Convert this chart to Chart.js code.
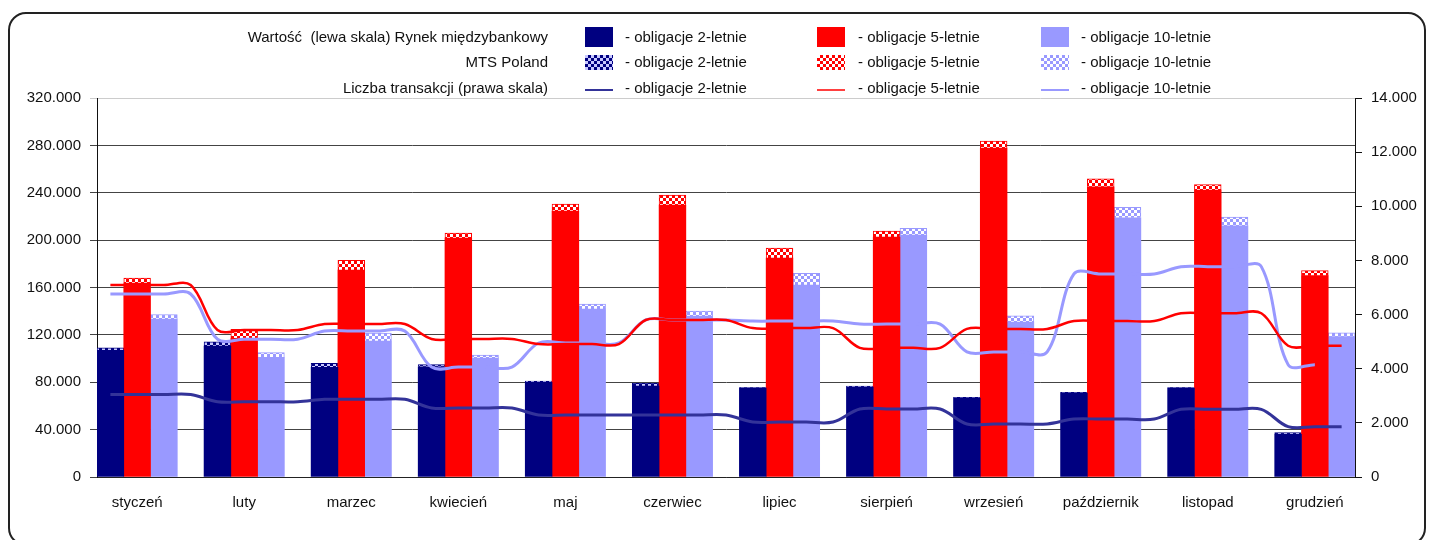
<!DOCTYPE html>
<html>
<head>
<meta charset="utf-8">
<script src="https://cdn.jsdelivr.net/npm/chart.js@4.4.1/dist/chart.umd.min.js"></script>
<style>
  body { margin: 0; width: 1429px; height: 540px; overflow: hidden; background: #fff;
         font-family: "Liberation Sans", Arial, sans-serif; }
  #frame { position: absolute; left: 8px; top: 12px; width: 1414px; height: 530px;
           border: 2px solid #222; border-radius: 18px; }
  #wrap { position: absolute; left: 0; top: 0; width: 1429px; height: 540px; }
  .lg { position: absolute; font-size: 15px; color: #111; white-space: pre; line-height: 18px; }
  .sw { position: absolute; }
</style>
</head>
<body>
<div id="frame"></div>
<div id="wrap"><canvas id="chart"></canvas></div>
<div id="legend"></div>
<script>
// miesiące
const months = ["styczeń", "luty", "marzec", "kwiecień", "maj", "czerwiec",
                "lipiec", "sierpień", "wrzesień", "październik", "listopad", "grudzień"];

// wartość obrotów - rynek międzybankowy (lewa skala)
const interbank2  = [107000, 110600, 92600, 93000, 80000, 76800, 75000, 76000, 66700, 70900, 75000, 36000];
const interbank5  = [163800, 117100, 174800, 201800, 224600, 229600, 184800, 202600, 277800, 245000, 242300, 170000];
const interbank10 = [133400, 101000, 114800, 100500, 141800, 135900, 162000, 204300, 130800, 218900, 212000, 118500];

// wartość obrotów - MTS Poland (dokładane na szczyt słupka)
const mts2  = [2000, 3600, 3400, 2000, 1000, 2600, 500, 800, 500, 500, 500, 1400];
const mts5  = [4200, 7600, 8200, 4200, 5800, 8400, 8500, 5100, 5900, 6800, 4700, 4200];
const mts10 = [3800, 4000, 6800, 2500, 4200, 4100, 10000, 5700, 5200, 8800, 7500, 3300];

// liczba transakcji (prawa skala)
const trans2  = [3050, 2780, 2870, 2550, 2290, 2290, 2030, 2510, 1960, 2140, 2500, 1860];
const trans5  = [7090, 5430, 5650, 5100, 4910, 5800, 5500, 4770, 5470, 5760, 6050, 4850];
const trans10 = [6760, 5090, 5390, 4060, 4950, 5800, 5760, 5650, 4620, 7500, 7770, 4150];

const NAVY = "#000080", RED = "#ff0000", LAV = "#9999ff";

// each month = 4 slots on the category axis (2y, 5y, 10y, gap); December has no gap
const SLOTS = months.length * 4 - 1;
const slotLabels = [];
for (let s = 0; s < SLOTS; s++) slotLabels.push(s % 4 === 1 ? months[Math.floor(s / 4)] : "");

function barSlots(vals, k) {
  const out = new Array(SLOTS).fill(null);
  vals.forEach((v, i) => { out[i * 4 + k] = v; });
  return out;
}
function lineSlots(vals) {
  const out = [];
  for (let s = 0; s < SLOTS; s++) out.push(vals[Math.floor(s / 4)]);
  return out;
}

// checkered fill used for MTS Poland
function checker(color, dot) {
  const c = document.createElement("canvas");
  c.width = c.height = 6;
  const g = c.getContext("2d");
  g.fillStyle = color; g.fillRect(0, 0, 6, 6);
  g.fillStyle = dot;
  g.fillRect(0, 0, 3, 3); g.fillRect(3, 3, 3, 3);
  return g.createPattern(c, "repeat");
}

function fmt(v) { return String(v).replace(/\B(?=(\d{3})+(?!\d))/g, "."); }

Chart.defaults.font.family = '"Liberation Sans", Arial, sans-serif';
Chart.defaults.font.size = 15;
Chart.defaults.color = "#111";

const bar = (label, data, bg, border) => ({
  type: "bar", label, data, backgroundColor: bg, yAxisID: "y", order: 1,
  borderColor: border || bg, borderWidth: border ? 1 : 0,
  barPercentage: 1, categoryPercentage: 1
});
const line = (label, data, color, w) => ({
  type: "line", label, data, yAxisID: "y1", order: 0,
  borderColor: color, borderWidth: w, pointRadius: 0, tension: 0.35, fill: false
});

const t10 = lineSlots(trans10);
t10[t10.length - 1] = null; // 10-letnie line stops one step earlier in December

const datasets = [
  bar("- obligacje 2-letnie", barSlots(interbank2, 0), NAVY),
  bar("- obligacje 5-letnie", barSlots(interbank5, 1), RED),
  bar("- obligacje 10-letnie", barSlots(interbank10, 2), LAV),
  bar("- obligacje 2-letnie", barSlots(mts2, 0), checker(NAVY, "#c8c8ff"), NAVY),
  bar("- obligacje 5-letnie", barSlots(mts5, 1), checker(RED, "#ffffff"), RED),
  bar("- obligacje 10-letnie", barSlots(mts10, 2), checker(LAV, "#ffffff"), LAV),
  line("- obligacje 2-letnie", lineSlots(trans2), "#333399", 3),
  line("- obligacje 5-letnie", lineSlots(trans5), RED, 2.5),
  line("- obligacje 10-letnie", t10, LAV, 3)
];

const chart = new Chart(document.getElementById("chart"), {
  type: "bar",
  data: { labels: slotLabels, datasets },
  options: {
    responsive: true,
    maintainAspectRatio: false,
    animation: false,
    layout: { padding: { top: 98, left: 0, right: 0, bottom: 0 } },
    plugins: { legend: { display: false }, tooltip: { enabled: false } },
    scales: {
      x: {
        stacked: true,
        grid: { display: false },
        border: { display: true, color: "#222" },
        ticks: { autoSkip: false, maxRotation: 0, minRotation: 0, padding: 9 },
        afterFit: s => { s.height = 63; }
      },
      y: {
        position: "left", stacked: true, min: 0, max: 320000,
        ticks: { stepSize: 40000, padding: 9, callback: v => fmt(v) },
        grid: { color: c => (c.tick && c.tick.value === 320000 ? "#cccccc" : "#444"), tickLength: 7 },
        border: { color: "#111" },
        afterFit: s => { s.width = 97; }
      },
      y1: {
        position: "right", min: 0, max: 14000,
        ticks: { stepSize: 2000, padding: 9, callback: v => fmt(v) },
        grid: { drawOnChartArea: false, tickLength: 7, color: "#111" },
        border: { color: "#111" },
        afterFit: s => { s.width = 74; }
      }
    }
  }
});

// legend: three rows (interbank / MTS / transactions) x three bond types
const rowLabels = ["Wartość  (lewa skala) Rynek międzybankowy", "MTS Poland", "Liczba transakcji (prawa skala)"];
const rowY = [37, 62, 88];
const swX = [585, 817, 1041];
const txtX = [625, 858, 1081];
const legend = document.getElementById("legend");

rowLabels.forEach((t, r) => {
  const d = document.createElement("div");
  d.className = "lg";
  d.textContent = t;
  d.style.right = (1429 - 548) + "px";
  d.style.top = (rowY[r] - 9) + "px";
  legend.appendChild(d);

  for (let k = 0; k < 3; k++) {
    const ds = datasets[r * 3 + k];
    const h = r === 0 ? 20 : (r === 1 ? 15 : 4);
    const cv = document.createElement("canvas");
    cv.className = "sw";
    cv.width = 28; cv.height = h;
    cv.style.left = swX[k] + "px";
    cv.style.top = Math.round(rowY[r] - h / 2 + (r === 2 ? 2 : 0)) + "px";
    const g = cv.getContext("2d");
    if (r < 2) {
      g.fillStyle = ds.backgroundColor;
      g.fillRect(0, 0, 28, h);
    } else {
      g.strokeStyle = ds.borderColor;
      g.lineWidth = ds.borderWidth > 2.5 ? 2 : 1.5;
      g.beginPath(); g.moveTo(0, h / 2); g.lineTo(28, h / 2); g.stroke();
    }
    legend.appendChild(cv);

    const lt = document.createElement("div");
    lt.className = "lg";
    lt.textContent = ds.label;
    lt.style.left = txtX[k] + "px";
    lt.style.top = (rowY[r] - 9) + "px";
    legend.appendChild(lt);
  }
});
</script>
</body>
</html>
